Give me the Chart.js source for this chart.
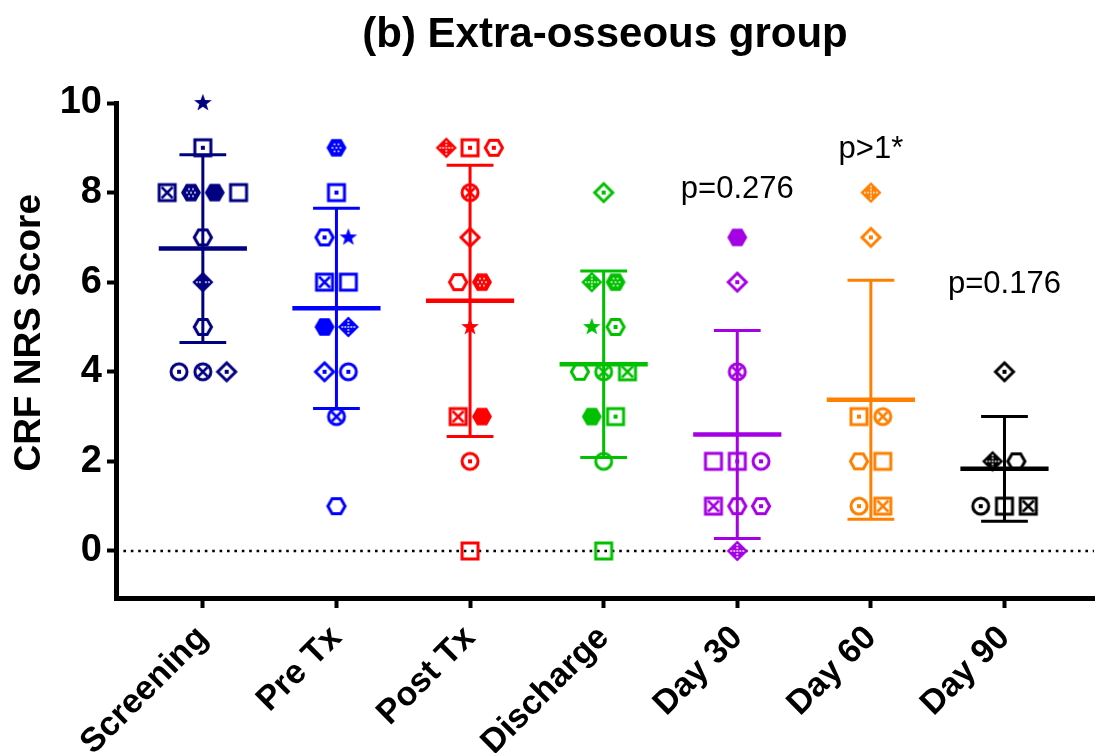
<!DOCTYPE html>
<html>
<head>
<meta charset="utf-8">
<script src="https://cdn.jsdelivr.net/npm/chart.js@4.4.1/dist/chart.umd.min.js"></script>
<style>
  html, body { margin: 0; padding: 0; background: #fff; overflow: hidden; }
  #wrap { width: 1096px; height: 753px; }
  canvas { display: block; }
</style>
</head>
<body>
<div id="wrap"><canvas id="c" width="1096" height="753"></canvas></div>
<script>
// ---- data ----
const categories = ['Screening', 'Pre Tx', 'Post Tx', 'Discharge', 'Day 30', 'Day 60', 'Day 90'];
const screening  = [10, 9, 8, 8, 8, 8, 7, 6, 5, 4, 4, 4];
const preTx      = [9, 8, 7, 7, 6, 6, 5, 5, 4, 4, 3, 1];
const postTx     = [9, 9, 9, 8, 7, 6, 6, 5, 3, 3, 2, 0];
const discharge  = [8, 6, 6, 5, 5, 4, 4, 4, 3, 3, 2, 0];
const day30      = [7, 6, 4, 2, 2, 2, 1, 1, 1, 0];
const day60      = [8, 7, 3, 3, 2, 2, 1, 1];
const day90      = [4, 2, 2, 1, 1, 1];
const yTicks     = [0, 2, 4, 6, 8, 10];
const pLabels    = ['', '', '', '', 'p=0.276', 'p>1*', 'p=0.176'];

// ---- styles ----
const pLabelY = [0, 0, 0, 0, 8.07, 8.97, 5.94];
const screeningMarks = ['star','squareDot','squareX','hexDotted','hexFilled','square','hexagon','diamondPlus','hexagon','circleDot','circleX','diamondDot'];
const preTxMarks     = ['hexDotted','squareDot','hexDot','star','squareX','square','hexFilled','diamondPlus','diamondDot','circleDot','circleX','hexagon'];
const postTxMarks    = ['diamondPlus','squareDot','hexDot','circleX','diamond','hexagon','hexDotted','star','squareX','hexFilled','circleDot','square'];
const dischargeMarks = ['diamondDot','diamondPlus','hexDotted','star','hexDot','hexagon','circleX','squareX','hexFilled','squareDot','circle','square'];
const day30Marks     = ['hexFilled','diamondDot','circleX','square','squareDot','circleDot','squareX','hexagon','hexDot','diamondPlus'];
const day60Marks     = ['diamondPlus','diamondDot','squareDot','circleX','hexagon','square','circleDot','squareX'];
const day90Marks     = ['diamondDot','diamondPlus','hexagon','circleDot','square','squareX'];
const colors = ['#000080', '#0000FF', '#FF0000', '#00C000', '#A400E4', '#FF8000', '#000000'];

const FONT = "'Liberation Sans', Arial, Helvetica, sans-serif";
const X_MIN = -0.65, X_MAX = 6.67;
const JITTER = 0.178;   // horizontal spread for tied values
const CAP = 0.175, MEAN_HALF = 0.33;

const groups = [screening, preTx, postTx, discharge, day30, day60, day90];
const marks  = [screeningMarks, preTxMarks, postTxMarks, dischargeMarks, day30Marks, day60Marks, day90Marks];

// small canvases used as point styles
function marker(kind, color) {
  const cv = document.createElement('canvas');
  cv.width = cv.height = 28;
  const g = cv.getContext('2d');
  const c = 14;
  g.strokeStyle = color; g.fillStyle = color;
  g.lineWidth = 3; g.lineJoin = 'miter';
  const hex = r => { g.beginPath(); for (let k = 0; k < 6; k++) { const a = k * Math.PI / 3; g.lineTo(c + r * Math.cos(a), c + r * Math.sin(a)); } g.closePath(); };
  const dia = r => { g.beginPath(); g.moveTo(c, c - r); g.lineTo(c + r, c); g.lineTo(c, c + r); g.lineTo(c - r, c); g.closePath(); };
  const dot = () => g.fillRect(c - 2, c - 2, 4, 4);
  const cross = r => { g.lineWidth = 2.5; g.beginPath(); g.moveTo(c - r, c - r); g.lineTo(c + r, c + r); g.moveTo(c + r, c - r); g.lineTo(c - r, c + r); g.stroke(); };
  const white = pts => { g.fillStyle = '#fff'; pts.forEach(([dx, dy]) => g.fillRect(c + dx - 0.8, c + dy - 0.8, 1.6, 1.6)); };

  switch (kind) {
    case 'square': case 'squareDot': case 'squareX':
      g.strokeRect(c - 8, c - 8, 16, 16);
      if (kind === 'squareDot') dot();
      if (kind === 'squareX') cross(5.5);
      break;
    case 'circle': case 'circleDot': case 'circleX':
      g.beginPath(); g.arc(c, c, 8, 0, Math.PI * 2); g.stroke();
      if (kind === 'circleDot') dot();
      if (kind === 'circleX') cross(4.5);
      break;
    case 'hexagon': case 'hexDot':
      hex(8.6); g.stroke();
      if (kind === 'hexDot') dot();
      break;
    case 'hexFilled':
      hex(10); g.fill();
      break;
    case 'hexDotted':
      hex(10); g.fill();
      white([[0, 0], [-4, 0], [4, 0], [-2, -3.5], [2, -3.5], [-2, 3.5], [2, 3.5]]);
      break;
    case 'diamond': case 'diamondDot':
      dia(9); g.stroke();
      if (kind === 'diamondDot') dot();
      break;
    case 'diamondPlus':
      dia(10.6); g.fill();
      white([[0, 0], [-3, 0], [3, 0], [-6, 0], [6, 0], [0, -3], [0, 3], [0, -6], [0, 6]]);
      break;
    case 'star': {
      g.beginPath();
      for (let k = 0; k < 10; k++) {
        const r = k % 2 ? 3.8 : 9.3;
        const a = -Math.PI / 2 + k * Math.PI / 5;
        g.lineTo(c + r * Math.cos(a), c + r * Math.sin(a));
      }
      g.closePath(); g.fill();
      break;
    }
  }
  return cv;
}

const mean = a => a.reduce((s, v) => s + v, 0) / a.length;
const sd = a => { const m = mean(a); return Math.sqrt(a.reduce((s, v) => s + (v - m) ** 2, 0) / (a.length - 1)); };

// tied values are spread side by side, centred on the category
function spread(values, i) {
  return values.map((v, k) => {
    const same = values.filter(w => w === v).length;
    const pos = values.slice(0, k).filter(w => w === v).length;
    return { x: i + (pos - (same - 1) / 2) * JITTER, y: v };
  });
}

const datasets = [];

datasets.push({
  type: 'line',
  data: [{ x: X_MIN, y: 0 }, { x: X_MAX, y: 0 }],
  borderColor: '#000', borderWidth: 2.6, borderDash: [2.6, 4.8],
  pointRadius: 0, order: 3, clip: false
});

groups.forEach((vals, i) => {
  const col = colors[i];
  datasets.push({
    type: 'scatter',
    data: spread(vals, i),
    pointStyle: marks[i].map(k => marker(k, col)),
    pointRadius: 9, pointHoverRadius: 9,
    order: 1, clip: false
  });
  const m = mean(vals), s = sd(vals);
  datasets.push({
    type: 'line',
    data: [
      { x: i - CAP, y: m + s }, { x: i + CAP, y: m + s }, { x: i, y: null },
      { x: i, y: m + s }, { x: i, y: m - s }, { x: i, y: null },
      { x: i - CAP, y: m - s }, { x: i + CAP, y: m - s }
    ],
    borderColor: col, borderWidth: 3, borderCapStyle: 'butt',
    pointRadius: 0, spanGaps: false, order: 0, clip: false
  });
  datasets.push({
    type: 'line',
    data: [{ x: i - MEAN_HALF, y: m }, { x: i + MEAN_HALF, y: m }],
    borderColor: col, borderWidth: 4.5, borderCapStyle: 'butt',
    pointRadius: 0, order: 0, clip: false
  });
});

const textPlugin = {
  id: 'texts',
  afterDatasetsDraw(chart) {
    const { ctx, scales: { x, y } } = chart;
    ctx.save();
    ctx.fillStyle = '#000';
    ctx.textAlign = 'center';
    ctx.textBaseline = 'middle';
    ctx.font = `31px ${FONT}`;
    pLabels.forEach((t, i) => {
      if (t) ctx.fillText(t, x.getPixelForValue(i), y.getPixelForValue(pLabelY[i]));
    });
    ctx.translate(30, y.getPixelForValue(4.87));
    ctx.rotate(-Math.PI / 2);
    ctx.font = `bold 37px ${FONT}`;
    ctx.fillText('CRF NRS Score', 0, 0);
    ctx.restore();
  }
};

new Chart(document.getElementById('c'), {
  type: 'scatter',
  data: { datasets },
  plugins: [textPlugin],
  options: {
    responsive: false,
    animation: false,
    devicePixelRatio: 1,
    layout: { autoPadding: false, padding: { left: 0, right: 2, top: 0, bottom: 0 } },
    plugins: {
      legend: { display: false },
      tooltip: { enabled: false },
      title: {
        display: true,
        text: '(b) Extra-osseous group',
        color: '#000',
        fullSize: false,
        font: { family: FONT, size: 42, weight: 'bold' },
        padding: { top: 10, bottom: 42.6 }
      }
    },
    scales: {
      x: {
        type: 'linear',
        min: X_MIN, max: X_MAX,
        afterBuildTicks: s => { s.ticks = categories.map((c, i) => ({ value: i })); },
        afterFit: s => { s.height = 155; s.paddingLeft = 0; s.paddingRight = 0; },
        grid: { drawOnChartArea: false, drawTicks: true, tickLength: 10, tickWidth: 4, tickColor: '#000' },
        border: { display: true, width: 5, color: '#000' },
        ticks: {
          autoSkip: false, minRotation: 45, maxRotation: 45, padding: 10,
          color: '#000', font: { family: FONT, size: 34, weight: 'bold' },
          callback: v => categories[v]
        }
      },
      y: {
        min: -1.05, max: 10,
        afterBuildTicks: s => { s.ticks = yTicks.map(v => ({ value: v })); },
        afterFit: s => { s.width = 116; s.paddingTop = 0; s.paddingBottom = 0; },
        grid: { drawOnChartArea: false, drawTicks: true, tickLength: 9, tickWidth: 4, tickColor: '#000' },
        border: { display: true, width: 5, color: '#000' },
        ticks: { padding: 5, color: '#000', font: { family: FONT, size: 38, weight: 'bold' } }
      }
    }
  }
});
</script>
</body>
</html>
